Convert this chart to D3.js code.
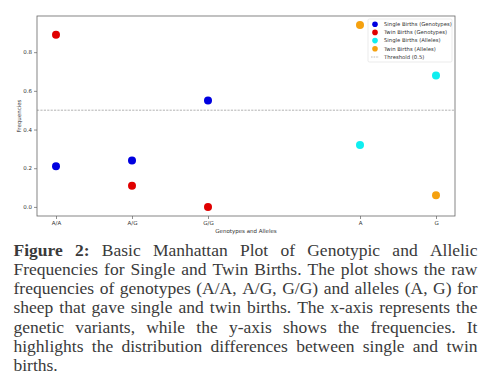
<!DOCTYPE html>
<html><head><meta charset="utf-8">
<script src="https://cdn.jsdelivr.net/npm/d3@7"></script>
<style>body{margin:0;background:#fff}svg{display:block}</style>
</head><body>
<svg id="c" width="495" height="383"></svg>
<script>
const categories = ["A/A","A/G","G/G","A","G"];
const catPos = [0,1,2,4,5];
const genotypes = ["A/A","A/G","G/G"];
const alleles = ["A","G"];
const singleGenotypes = [0.21,0.24,0.55];
const twinGenotypes = [0.89,0.11,0.0];
const singleAlleles = [0.32,0.68];
const twinAlleles = [0.94,0.06];
const yTicks = [0.0,0.2,0.4,0.6,0.8];
const threshold = 0.5;
const legendLabels = ["Single Births (Genotypes)","Twin Births (Genotypes)","Single Births (Alleles)","Twin Births (Alleles)","Threshold (0.5)"];
const captionLines = [
 "Basic Manhattan Plot of Genotypic and Allelic",
 "Frequencies for Single and Twin Births. The plot shows the raw",
 "frequencies of genotypes (A/A, A/G, G/G) and alleles (A, G) for",
 "sheep that gave single and twin births. The x-axis represents the",
 "genetic variants, while the y-axis shows the frequencies. It",
 "highlights the distribution differences between single and twin",
 "births."
];

const svg = d3.select("#c");
const L=37,R=455,T=16,B=216;
const posOf = c => catPos[categories.indexOf(c)];
const x = d3.scaleLinear().domain([-0.25,5.25]).range([L,R]);
const y = d3.scaleLinear().domain([-0.047,0.987]).range([B,T]);
const tickFont = "DejaVu Sans";
const axCol = "#444";

svg.append("line").attr("x1",L).attr("x2",R).attr("y1",y(threshold)).attr("y2",y(threshold))
  .attr("stroke","#aaa").attr("stroke-width",0.9).attr("stroke-dasharray","2.2,1.2");

const xAxis = d3.axisBottom(x).tickValues(catPos).tickFormat((d,i)=>categories[i]).tickSize(3).tickPadding(2);
const gx = svg.append("g").attr("transform",`translate(0,${B})`).call(xAxis);
const yAxis = d3.axisLeft(y).tickValues(yTicks).tickFormat(d3.format(".1f")).tickSize(3).tickPadding(2);
const gy = svg.append("g").attr("transform",`translate(${L},0)`).call(yAxis);
[gx,gy].forEach(g=>{
  g.select(".domain").remove();
  g.selectAll("line").attr("stroke",axCol).attr("stroke-width",0.6);
  g.selectAll("text").attr("font-family",tickFont).attr("font-size",5.5).attr("fill","#333");
});
svg.append("rect").attr("x",L).attr("y",T).attr("width",R-L).attr("height",B-T)
  .attr("fill","none").attr("stroke","#666").attr("stroke-width",0.8);

svg.append("text").attr("x",(L+R)/2).attr("y",232.5).attr("text-anchor","middle")
  .attr("font-family",tickFont).attr("font-size",5.5).attr("fill","#333").text("Genotypes and Alleles");
svg.append("text").attr("transform",`translate(21,${(T+B)/2}) rotate(-90)`).attr("text-anchor","middle")
  .attr("font-family",tickFont).attr("font-size",5.5).attr("fill","#333").text("Frequencies");

const series = [
 {cats:genotypes, vals:singleGenotypes, color:"#0000e0"},
 {cats:genotypes, vals:twinGenotypes, color:"#e00000"},
 {cats:alleles, vals:singleAlleles, color:"#10eef0"},
 {cats:alleles, vals:twinAlleles, color:"#f5a10f"}
];
series.forEach(s=>{
  svg.append("g").selectAll("circle").data(s.vals).join("circle")
    .attr("cx",(d,i)=>x(posOf(s.cats[i]))).attr("cy",d=>y(d)).attr("r",4).attr("fill",s.color);
});

const lg = svg.append("g");
lg.append("rect").attr("x",368).attr("y",19).attr("width",84).attr("height",43).attr("rx",1.5)
  .attr("fill","#fff").attr("fill-opacity",0.8).attr("stroke","#ddd").attr("stroke-width",0.6);
legendLabels.forEach((t,i)=>{
  const yy = 24.2 + i*8.2;
  if(i<4) lg.append("circle").attr("cx",375).attr("cy",yy).attr("r",2.8).attr("fill",series[i].color);
  else lg.append("line").attr("x1",371).attr("x2",379).attr("y1",yy).attr("y2",yy)
    .attr("stroke","#aaa").attr("stroke-width",0.8).attr("stroke-dasharray","1.6,1");
  lg.append("text").attr("x",384).attr("y",yy).attr("dy","0.35em").attr("font-family",tickFont)
    .attr("font-size",5.3).attr("fill","#333").text(t);
});

// caption, justified
const capFont = "Liberation Serif", capCol = "#3a3a3a";
const left=13.5, right=477.5, base0=255.8, lh=19.2;
function measure(txt, bold, size){
  const t = svg.append("text").attr("font-family",capFont).attr("font-size",size)
    .attr("font-weight",bold?"bold":"normal").text(txt);
  const w = t.node().getComputedTextLength(); t.remove(); return w;
}
// fit font size so widest line fits with normal spaces
let capSize = 17.5;
const widest = d3.max(captionLines, l=>measure(l,false,100));
capSize = Math.min(capSize, 100*(right-left)*0.985/widest);
captionLines.forEach((line,li)=>{
  let words = line.split(" ").map(w=>({w,bold:false}));
  if(li===0) words = [{w:"Figure",bold:true},{w:"2:",bold:true}].concat(words);
  const widths = words.map(o=>measure(o.w,o.bold,capSize));
  const total = d3.sum(widths);
  const last = li===captionLines.length-1;
  const gap = last ? measure("a b",false,capSize)-measure("ab",false,capSize) : (right-left-total)/(words.length-1);
  let cx = left;
  words.forEach((o,i)=>{
    svg.append("text").attr("x",cx).attr("y",base0+li*lh).attr("font-family",capFont)
      .attr("font-size",capSize).attr("font-weight",o.bold?"bold":"normal").attr("fill",capCol).text(o.w);
    cx += widths[i]+gap;
  });
});
</script>
</body></html>
